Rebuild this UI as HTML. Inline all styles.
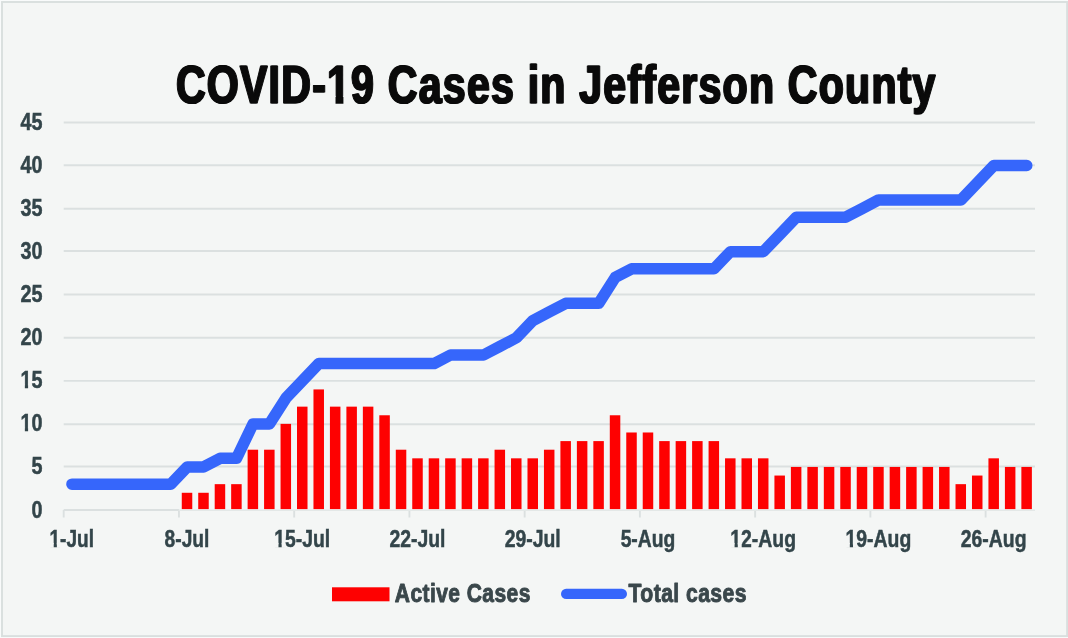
<!DOCTYPE html>
<html><head><meta charset="utf-8"><title>COVID-19 Cases in Jefferson County</title>
<style>
html,body{margin:0;padding:0;background:#f9fbfb;}
body{width:1068px;height:638px;overflow:hidden;font-family:"Liberation Sans",sans-serif;}
svg{display:block;opacity:0.999;will-change:transform}
text{font-family:"Liberation Sans",sans-serif;font-weight:bold;}
</style></head><body>
<svg width="1068" height="638" viewBox="0 0 1068 638">
<rect x="0" y="0" width="1068" height="638" fill="#f9fbfb"/>
<rect x="2.0" y="2.0" width="1065.1" height="634.1" fill="#f4f6f5" stroke="#d9dfde" stroke-width="1.9"/>

<g stroke="#dbe0e0" stroke-width="1.9" fill="none">
<line x1="63.7" y1="510.00" x2="1035.0" y2="510.00"/>
<line x1="63.7" y1="466.50" x2="1035.0" y2="466.50"/>
<line x1="63.7" y1="424.30" x2="1035.0" y2="424.30"/>
<line x1="63.7" y1="380.90" x2="1035.0" y2="380.90"/>
<line x1="63.7" y1="337.75" x2="1035.0" y2="337.75"/>
<line x1="63.7" y1="294.45" x2="1035.0" y2="294.45"/>
<line x1="63.7" y1="251.05" x2="1035.0" y2="251.05"/>
<line x1="63.7" y1="208.75" x2="1035.0" y2="208.75"/>
<line x1="63.7" y1="165.30" x2="1035.0" y2="165.30"/>
<line x1="63.7" y1="122.45" x2="1035.0" y2="122.45"/>
<line x1="63.70" y1="510.00" x2="63.70" y2="517.50"/>
<line x1="178.94" y1="510.00" x2="178.94" y2="517.50"/>
<line x1="294.18" y1="510.00" x2="294.18" y2="517.50"/>
<line x1="409.42" y1="510.00" x2="409.42" y2="517.50"/>
<line x1="524.66" y1="510.00" x2="524.66" y2="517.50"/>
<line x1="639.89" y1="510.00" x2="639.89" y2="517.50"/>
<line x1="755.13" y1="510.00" x2="755.13" y2="517.50"/>
<line x1="870.37" y1="510.00" x2="870.37" y2="517.50"/>
<line x1="985.61" y1="510.00" x2="985.61" y2="517.50"/>
</g>
<line x1="178.94" y1="510" x2="1035.0" y2="510" stroke="#eef1f0" stroke-width="2.1"/>
<line x1="178.94" y1="510.3" x2="1035.0" y2="510.3" stroke="#e3e8e7" stroke-width="1.3"/>
<g fill="#fe0000">
<rect x="181.77" y="492.78" width="10.5" height="16.32"/>
<rect x="198.23" y="492.78" width="10.5" height="16.32"/>
<rect x="214.70" y="484.16" width="10.5" height="24.94"/>
<rect x="231.16" y="484.16" width="10.5" height="24.94"/>
<rect x="247.62" y="449.71" width="10.5" height="59.39"/>
<rect x="264.08" y="449.71" width="10.5" height="59.39"/>
<rect x="280.55" y="423.88" width="10.5" height="85.22"/>
<rect x="297.01" y="406.65" width="10.5" height="102.45"/>
<rect x="313.47" y="389.43" width="10.5" height="119.67"/>
<rect x="329.93" y="406.65" width="10.5" height="102.45"/>
<rect x="346.40" y="406.65" width="10.5" height="102.45"/>
<rect x="362.86" y="406.65" width="10.5" height="102.45"/>
<rect x="379.32" y="415.27" width="10.5" height="93.83"/>
<rect x="395.79" y="449.71" width="10.5" height="59.39"/>
<rect x="412.25" y="458.33" width="10.5" height="50.77"/>
<rect x="428.71" y="458.33" width="10.5" height="50.77"/>
<rect x="445.17" y="458.33" width="10.5" height="50.77"/>
<rect x="461.64" y="458.33" width="10.5" height="50.77"/>
<rect x="478.10" y="458.33" width="10.5" height="50.77"/>
<rect x="494.56" y="449.71" width="10.5" height="59.39"/>
<rect x="511.02" y="458.33" width="10.5" height="50.77"/>
<rect x="527.49" y="458.33" width="10.5" height="50.77"/>
<rect x="543.95" y="449.71" width="10.5" height="59.39"/>
<rect x="560.41" y="441.10" width="10.5" height="68.00"/>
<rect x="576.88" y="441.10" width="10.5" height="68.00"/>
<rect x="593.34" y="441.10" width="10.5" height="68.00"/>
<rect x="609.80" y="415.27" width="10.5" height="93.83"/>
<rect x="626.26" y="432.49" width="10.5" height="76.61"/>
<rect x="642.73" y="432.49" width="10.5" height="76.61"/>
<rect x="659.19" y="441.10" width="10.5" height="68.00"/>
<rect x="675.65" y="441.10" width="10.5" height="68.00"/>
<rect x="692.11" y="441.10" width="10.5" height="68.00"/>
<rect x="708.58" y="441.10" width="10.5" height="68.00"/>
<rect x="725.04" y="458.33" width="10.5" height="50.77"/>
<rect x="741.50" y="458.33" width="10.5" height="50.77"/>
<rect x="757.97" y="458.33" width="10.5" height="50.77"/>
<rect x="774.43" y="475.55" width="10.5" height="33.55"/>
<rect x="790.89" y="466.94" width="10.5" height="42.16"/>
<rect x="807.35" y="466.94" width="10.5" height="42.16"/>
<rect x="823.82" y="466.94" width="10.5" height="42.16"/>
<rect x="840.28" y="466.94" width="10.5" height="42.16"/>
<rect x="856.74" y="466.94" width="10.5" height="42.16"/>
<rect x="873.20" y="466.94" width="10.5" height="42.16"/>
<rect x="889.67" y="466.94" width="10.5" height="42.16"/>
<rect x="906.13" y="466.94" width="10.5" height="42.16"/>
<rect x="922.59" y="466.94" width="10.5" height="42.16"/>
<rect x="939.06" y="466.94" width="10.5" height="42.16"/>
<rect x="955.52" y="484.16" width="10.5" height="24.94"/>
<rect x="971.98" y="475.55" width="10.5" height="33.55"/>
<rect x="988.44" y="458.33" width="10.5" height="50.77"/>
<rect x="1004.91" y="466.94" width="10.5" height="42.16"/>
<rect x="1021.37" y="466.94" width="10.5" height="42.16"/>
</g>
<polyline points="71.93,484.16 88.39,484.16 104.86,484.16 121.32,484.16 137.78,484.16 154.24,484.16 170.71,484.16 187.17,466.94 203.63,466.94 220.10,458.33 236.56,458.33 253.02,423.88 269.48,423.88 285.95,398.04 302.41,380.82 318.87,363.59 335.33,363.59 351.80,363.59 368.26,363.59 384.72,363.59 401.19,363.59 417.65,363.59 434.11,363.59 450.57,354.98 467.04,354.98 483.50,354.98 499.96,346.37 516.42,337.76 532.89,320.53 549.35,311.92 565.81,303.31 582.28,303.31 598.74,303.31 615.20,277.47 631.66,268.86 648.13,268.86 664.59,268.86 681.05,268.86 697.51,268.86 713.98,268.86 730.44,251.63 746.90,251.63 763.37,251.63 779.83,234.41 796.29,217.18 812.75,217.18 829.22,217.18 845.68,217.18 862.14,208.57 878.60,199.96 895.07,199.96 911.53,199.96 927.99,199.96 944.46,199.96 960.92,199.96 977.38,182.74 993.84,165.51 1010.31,165.51 1026.77,165.51" fill="none" stroke="#3666fb" stroke-width="11.5" stroke-linecap="round" stroke-linejoin="round"/>
<g opacity="0.999">
<text x="175.4" y="103.0" font-size="54.3" fill="#0a0a0a" stroke="#0a0a0a" stroke-width="1.2" stroke-linejoin="round" letter-spacing="1.6" textLength="760.8" lengthAdjust="spacingAndGlyphs">COVID-19 Cases in Jefferson County</text>
<text x="176.4" y="103.0" font-size="54.3" fill="#0a0a0a" stroke="#0a0a0a" stroke-width="1.2" stroke-linejoin="round" letter-spacing="1.6" textLength="760.8" lengthAdjust="spacingAndGlyphs">COVID-19 Cases in Jefferson County</text>
<text x="31.50" y="517.50" font-size="23.8" fill="#33454a" stroke="#33454a" stroke-width="0.5" textLength="11.00" lengthAdjust="spacingAndGlyphs">0</text>
<text x="31.50" y="474.44" font-size="23.8" fill="#33454a" stroke="#33454a" stroke-width="0.5" textLength="11.00" lengthAdjust="spacingAndGlyphs">5</text>
<text x="20.50" y="431.38" font-size="23.8" fill="#33454a" stroke="#33454a" stroke-width="0.5" textLength="22.00" lengthAdjust="spacingAndGlyphs">10</text>
<text x="20.50" y="388.32" font-size="23.8" fill="#33454a" stroke="#33454a" stroke-width="0.5" textLength="22.00" lengthAdjust="spacingAndGlyphs">15</text>
<text x="20.50" y="345.26" font-size="23.8" fill="#33454a" stroke="#33454a" stroke-width="0.5" textLength="22.00" lengthAdjust="spacingAndGlyphs">20</text>
<text x="20.50" y="302.19" font-size="23.8" fill="#33454a" stroke="#33454a" stroke-width="0.5" textLength="22.00" lengthAdjust="spacingAndGlyphs">25</text>
<text x="20.50" y="259.13" font-size="23.8" fill="#33454a" stroke="#33454a" stroke-width="0.5" textLength="22.00" lengthAdjust="spacingAndGlyphs">30</text>
<text x="20.50" y="216.07" font-size="23.8" fill="#33454a" stroke="#33454a" stroke-width="0.5" textLength="22.00" lengthAdjust="spacingAndGlyphs">35</text>
<text x="20.50" y="173.01" font-size="23.8" fill="#33454a" stroke="#33454a" stroke-width="0.5" textLength="22.00" lengthAdjust="spacingAndGlyphs">40</text>
<text x="20.50" y="129.95" font-size="23.8" fill="#33454a" stroke="#33454a" stroke-width="0.5" textLength="22.00" lengthAdjust="spacingAndGlyphs">45</text>
<text x="49.53" y="546.6" font-size="23.8" fill="#33454a" stroke="#33454a" stroke-width="0.5" textLength="44.4" lengthAdjust="spacingAndGlyphs">1-Jul</text>
<text x="164.57" y="546.6" font-size="23.8" fill="#33454a" stroke="#33454a" stroke-width="0.5" textLength="44.8" lengthAdjust="spacingAndGlyphs">8-Jul</text>
<text x="274.21" y="546.6" font-size="23.8" fill="#33454a" stroke="#33454a" stroke-width="0.5" textLength="56.0" lengthAdjust="spacingAndGlyphs">15-Jul</text>
<text x="389.45" y="546.6" font-size="23.8" fill="#33454a" stroke="#33454a" stroke-width="0.5" textLength="56.0" lengthAdjust="spacingAndGlyphs">22-Jul</text>
<text x="504.69" y="546.6" font-size="23.8" fill="#33454a" stroke="#33454a" stroke-width="0.5" textLength="56.0" lengthAdjust="spacingAndGlyphs">29-Jul</text>
<text x="620.63" y="546.6" font-size="23.8" fill="#33454a" stroke="#33454a" stroke-width="0.5" textLength="54.6" lengthAdjust="spacingAndGlyphs">5-Aug</text>
<text x="730.32" y="546.6" font-size="23.8" fill="#33454a" stroke="#33454a" stroke-width="0.5" textLength="65.7" lengthAdjust="spacingAndGlyphs">12-Aug</text>
<text x="845.55" y="546.6" font-size="23.8" fill="#33454a" stroke="#33454a" stroke-width="0.5" textLength="65.7" lengthAdjust="spacingAndGlyphs">19-Aug</text>
<text x="960.79" y="546.6" font-size="23.8" fill="#33454a" stroke="#33454a" stroke-width="0.5" textLength="65.7" lengthAdjust="spacingAndGlyphs">26-Aug</text>
<rect x="332" y="587.3" width="57.5" height="14" fill="#fe0000"/>
<line x1="566.2" y1="593.9" x2="621.8" y2="593.9" stroke="#3666fb" stroke-width="10.4" stroke-linecap="round"/>
<text x="394.8" y="602.3" font-size="25.2" fill="#3a474b" stroke="#3a474b" stroke-width="0.9" stroke-linejoin="round" letter-spacing="0.5" textLength="136.0" lengthAdjust="spacingAndGlyphs">Active Cases</text>
<text x="628.5" y="602.3" font-size="25.2" fill="#3a474b" stroke="#3a474b" stroke-width="0.9" stroke-linejoin="round" letter-spacing="0.5" textLength="118.5" lengthAdjust="spacingAndGlyphs">Total cases</text>
<g fill="#f4f6f5">
<rect x="327.83" y="95.86" width="7.69" height="8.74"/>
<rect x="343.41" y="95.86" width="7.17" height="8.74"/>
<rect x="20.80" y="427.70" width="4.05" height="4.93"/>
<rect x="28.10" y="427.70" width="3.80" height="4.93"/>
<rect x="20.80" y="384.64" width="4.05" height="4.93"/>
<rect x="28.10" y="384.64" width="3.80" height="4.93"/>
<rect x="49.78" y="542.92" width="3.93" height="4.93"/>
<rect x="56.86" y="542.92" width="3.68" height="4.93"/>
<rect x="274.48" y="542.92" width="3.99" height="4.93"/>
<rect x="281.67" y="542.92" width="3.74" height="4.93"/>
<rect x="730.59" y="542.92" width="3.99" height="4.93"/>
<rect x="737.78" y="542.92" width="3.74" height="4.93"/>
<rect x="845.82" y="542.92" width="3.99" height="4.93"/>
<rect x="853.01" y="542.92" width="3.74" height="4.93"/>
</g>
</g>
</svg></body></html>
